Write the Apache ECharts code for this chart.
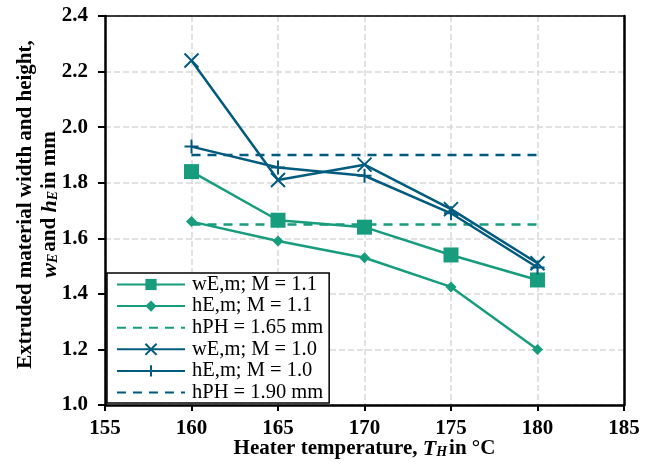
<!DOCTYPE html>
<html>
<head>
<meta charset="utf-8">
<script src="https://cdn.jsdelivr.net/npm/echarts@6/dist/echarts.min.js"></script>
<style>
  html, body { margin: 0; padding: 0; background: #fff; }
  #chart { width: 652px; height: 465px; }
</style>
</head>
<body>
<div id="chart"></div>
<script>
// Heater temperature in °C
const temperatures = [160, 165, 170, 175, 180];

// Extruded material width / height in mm, mould factor M = 1.1
const widthM11  = [1.84, 1.665, 1.64, 1.54, 1.45];
const heightM11 = [1.66, 1.59, 1.53, 1.425, 1.20];
const nozzleHeightA = 1.65;

// Extruded material width / height in mm, mould factor M = 1.0
const widthM10  = [2.24, 1.81, 1.865, 1.705, 1.51];
const heightM10 = [1.93, 1.855, 1.825, 1.69, 1.495];
const nozzleHeightB = 1.90;

const seriesNames = [
  'wE,m; M = 1.1', 'hE,m; M = 1.1', 'hPH = 1.65 mm',
  'wE,m; M = 1.0', 'hE,m; M = 1.0', 'hPH = 1.90 mm'
];

const GREEN = '#179c7d';
const BLUE = '#005b7f';
const SERIF = '"Liberation Serif", "Times New Roman", serif';

const pair = (vals) => temperatures.map((t, i) => [t, vals[i]]);
const flat = (v) => [[temperatures[0], v], [temperatures[temperatures.length - 1], v]];

const crossPath = 'path://M0,0L10,10M10,0L0,10';
const plusPath = 'path://M5,0L5,10M0,5L10,5';

const chart = echarts.init(document.getElementById('chart'));

const subRich = {
  b: { fontFamily: SERIF, fontWeight: 'bold', fontSize: 21, color: '#000' },
  bi: { fontFamily: SERIF, fontWeight: 'bold', fontStyle: 'italic', fontSize: 22, color: '#000' },
  s: { fontFamily: SERIF, fontWeight: 'bold', fontStyle: 'italic', fontSize: 14, color: '#000', padding: [7, 2, 0, 0] }
};

const tickRich = { t: { fontFamily: SERIF, fontWeight: 'bold', fontSize: 21, color: '#000' } };

// dashed reference lines appear in the legend as a plain line
const legendData = seriesNames.map((n, i) =>
  (i === 2 || i === 5) ? { name: n, itemStyle: { opacity: 0 } } : { name: n });

chart.setOption({
  animation: false,
  grid: { left: 105, right: 28, top: 16, bottom: 60, containLabel: false, outerBoundsMode: 'none' },
  legend: {
    data: legendData,
    orient: 'vertical',
    left: 107, top: 273,
    padding: [1, 6, 0, 9],
    itemWidth: 68, itemHeight: 14, itemGap: 0.6,
    backgroundColor: '#fff',
    borderColor: '#000', borderWidth: 1.5, borderRadius: 0,
    textStyle: { fontFamily: SERIF, fontSize: 20.5, lineHeight: 21, color: '#000', padding: [0, 0, 0, 2] }
  },
  xAxis: [{
    type: 'value',
    min: 155, max: 185, interval: 5,
    name: '{b|Heater temperature, }{bi|T}{s|H}{b|in °C}',
    nameLocation: 'middle', nameGap: 33, nameMoveOverlap: false,
    nameTextStyle: { rich: subRich },
    axisLine: { show: true, onZero: false, lineStyle: { color: '#000', width: 2.5 } },
    axisTick: { show: true, inside: false, length: 6, lineStyle: { color: '#000', width: 2 } },
    axisLabel: { margin: 13, rich: tickRich, formatter: (v) => '{t|' + v + '}' },
    splitLine: { show: true, lineStyle: { color: '#d9d9d9', type: [6, 3], width: 1.5 } }
  }, {
    type: 'value',
    position: 'top',
    min: 155, max: 185, interval: 5,
    axisLine: { show: true, onZero: false, lineStyle: { color: '#000', width: 1.5 } },
    axisTick: { show: false }, axisLabel: { show: false }, splitLine: { show: false }
  }],
  yAxis: [{
    type: 'value',
    min: 1.0, max: 2.4, interval: 0.2,
    name: '{b|Extruded material width and height,}\n{bi|w}{s|E}{b|and }{bi|h}{s|E}{b|in mm}',
    nameLocation: 'middle', nameRotate: 90, nameGap: 43, nameMoveOverlap: false,
    nameTextStyle: { rich: subRich, lineHeight: 24, align: 'center', padding: [0, 0, 0, 12] },
    axisLine: { show: true, onZero: false, lineStyle: { color: '#000', width: 2.5 } },
    axisTick: { show: true, inside: false, length: 7, lineStyle: { color: '#000', width: 2 } },
    axisLabel: { margin: 17, rich: tickRich, formatter: (v) => '{t|' + v.toFixed(1) + '}' },
    splitLine: {
      show: true,
      lineStyle: { color: '#d9d9d9', type: [6, 3], width: 1.5 }
    }
  }, {
    type: 'value',
    position: 'right',
    min: 1.0, max: 2.4, interval: 0.2,
    axisLine: { show: true, onZero: false, lineStyle: { color: '#000', width: 2.5 } },
    axisTick: { show: false }, axisLabel: { show: false }, splitLine: { show: false }
  }],
  series: [
    {
      name: seriesNames[0], type: 'line', data: pair(widthM11),
      symbol: 'rect', symbolSize: 15,
      lineStyle: { color: GREEN, width: 2.5 }, itemStyle: { color: GREEN }, z: 3
    },
    {
      name: seriesNames[1], type: 'line', data: pair(heightM11),
      symbol: 'diamond', symbolSize: 11,
      lineStyle: { color: GREEN, width: 2.5 }, itemStyle: { color: GREEN }, z: 3
    },
    {
      name: seriesNames[2], type: 'line', data: flat(nozzleHeightA),
      symbol: 'none', showSymbol: false,
      lineStyle: { color: GREEN, width: 2.5, type: [9, 7] }, itemStyle: { color: GREEN }, z: 2
    },
    {
      name: seriesNames[3], type: 'line', data: pair(widthM10),
      symbol: crossPath, symbolSize: 14,
      lineStyle: { color: BLUE, width: 2.5 },
      itemStyle: { color: 'transparent', borderColor: BLUE, borderWidth: 2 }, z: 4
    },
    {
      name: seriesNames[4], type: 'line', data: pair(heightM10),
      symbol: plusPath, symbolSize: 14,
      lineStyle: { color: BLUE, width: 2.5 },
      itemStyle: { color: 'transparent', borderColor: BLUE, borderWidth: 2 }, z: 4
    },
    {
      name: seriesNames[5], type: 'line', data: flat(nozzleHeightB),
      symbol: 'none', showSymbol: false,
      lineStyle: { color: BLUE, width: 2.5, type: [9, 7] }, itemStyle: { color: BLUE }, z: 2
    }
  ]
});
</script>
</body>
</html>
